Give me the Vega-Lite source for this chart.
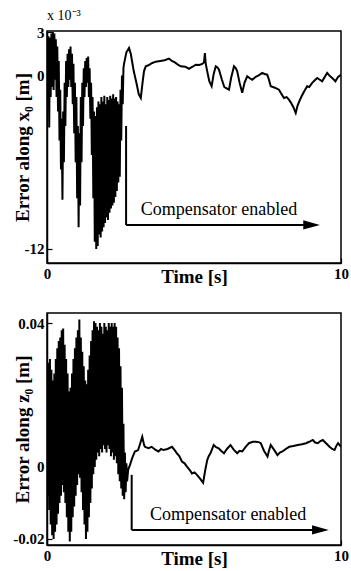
{
  "$schema": "https://vega.github.io/schema/vega-lite/v6.json",
  "padding": {"left": 12, "top": 8, "right": 0, "bottom": 0},
  "background": "white",
  "spacing": 25,
  "datasets": {
    "x0": [
      {"t":0.000,"e":2.0},{"t":0.025,"e":-1.2},{"t":0.050,"e":2.7},{"t":0.075,"e":-3.6},{"t":0.100,"e":2.6},{"t":0.125,"e":-1.5},{"t":0.150,"e":2.9},{"t":0.175,"e":-0.8},{"t":0.200,"e":3.0},{"t":0.225,"e":-1.0},
      {"t":0.250,"e":2.9},{"t":0.275,"e":-0.3},{"t":0.300,"e":2.5},{"t":0.325,"e":-1.5},{"t":0.350,"e":2.0},{"t":0.375,"e":-2.5},{"t":0.400,"e":1.0},{"t":0.425,"e":-4.5},{"t":0.450,"e":-1.0},{"t":0.475,"e":-6.5},
      {"t":0.500,"e":-3.0},{"t":0.525,"e":-8.6},{"t":0.550,"e":-2.5},{"t":0.575,"e":-6.0},{"t":0.600,"e":-0.5},{"t":0.625,"e":-3.5},{"t":0.650,"e":1.0},{"t":0.675,"e":-1.5},{"t":0.700,"e":1.5},{"t":0.725,"e":-0.8},
      {"t":0.750,"e":1.8},{"t":0.775,"e":-0.3},{"t":0.800,"e":2.0},{"t":0.825,"e":-0.8},{"t":0.850,"e":1.5},{"t":0.875,"e":-2.0},{"t":0.900,"e":0.8},{"t":0.925,"e":-4.0},{"t":0.950,"e":-0.5},{"t":0.975,"e":-6.0},
      {"t":1.000,"e":-1.5},{"t":1.025,"e":-8.5},{"t":1.050,"e":-3.5},{"t":1.075,"e":-10.5},{"t":1.100,"e":-4.0},{"t":1.125,"e":-9.0},{"t":1.150,"e":-1.5},{"t":1.175,"e":-6.0},{"t":1.200,"e":-0.5},{"t":1.225,"e":-3.5},
      {"t":1.250,"e":0.5},{"t":1.275,"e":-1.5},{"t":1.300,"e":1.0},{"t":1.325,"e":-0.8},{"t":1.350,"e":1.2},{"t":1.375,"e":-0.5},{"t":1.400,"e":1.3},{"t":1.425,"e":-1.5},{"t":1.450,"e":0.5},{"t":1.475,"e":-3.0},
      {"t":1.500,"e":-0.5},{"t":1.525,"e":-5.5},{"t":1.550,"e":-1.5},{"t":1.575,"e":-8.5},{"t":1.600,"e":-2.5},{"t":1.625,"e":-11.5},{"t":1.650,"e":-2.8},{"t":1.675,"e":-12.0},{"t":1.700,"e":-2.2},{"t":1.725,"e":-11.8},
      {"t":1.750,"e":-1.8},{"t":1.775,"e":-11.0},{"t":1.800,"e":-2.0},{"t":1.825,"e":-11.2},{"t":1.850,"e":-1.5},{"t":1.875,"e":-10.8},{"t":1.900,"e":-1.8},{"t":1.925,"e":-10.5},{"t":1.950,"e":-1.4},{"t":1.975,"e":-10.2},
      {"t":2.000,"e":-2.0},{"t":2.025,"e":-9.8},{"t":2.050,"e":-1.5},{"t":2.075,"e":-10.0},{"t":2.100,"e":-1.7},{"t":2.125,"e":-9.5},{"t":2.150,"e":-1.4},{"t":2.175,"e":-9.2},{"t":2.200,"e":-1.6},{"t":2.225,"e":-9.0},
      {"t":2.250,"e":-1.3},{"t":2.275,"e":-8.8},{"t":2.300,"e":-1.6},{"t":2.325,"e":-8.4},{"t":2.350,"e":-1.5},{"t":2.375,"e":-8.0},{"t":2.400,"e":-1.8},{"t":2.425,"e":-7.4},{"t":2.450,"e":-2.0},{"t":2.475,"e":-7.0},
      {"t":2.500,"e":-1.0},{"t":2.525,"e":-4.5},{"t":2.550,"e":0.0},{"t":2.575,"e":-2.0},{"t":2.600,"e":0.5},
      {"t":2.62,"e":0.8},{"t":2.70,"e":1.6},{"t":2.79,"e":1.9},{"t":2.85,"e":1.5},{"t":2.95,"e":0.3},{"t":3.05,"e":-0.6},{"t":3.12,"e":-1.3},{"t":3.19,"e":-1.56},{"t":3.25,"e":-0.5},{"t":3.30,"e":0.3},
      {"t":3.36,"e":0.63},{"t":3.45,"e":0.7},{"t":3.58,"e":0.86},{"t":3.70,"e":0.95},{"t":3.85,"e":1.0},{"t":4.00,"e":1.05},{"t":4.15,"e":1.16},{"t":4.25,"e":1.0},{"t":4.35,"e":0.9},{"t":4.45,"e":0.75},
      {"t":4.55,"e":0.63},{"t":4.70,"e":0.6},{"t":4.83,"e":0.46},{"t":4.95,"e":0.6},{"t":5.06,"e":0.74},{"t":5.18,"e":0.72},{"t":5.28,"e":0.79},{"t":5.34,"e":0.9},{"t":5.37,"e":1.55},{"t":5.40,"e":0.8},
      {"t":5.45,"e":0.28},{"t":5.52,"e":-0.4},{"t":5.60,"e":-0.75},{"t":5.67,"e":0.1},{"t":5.74,"e":0.63},{"t":5.80,"e":0.55},{"t":5.85,"e":0.4},{"t":5.95,"e":-0.3},{"t":6.03,"e":-0.8},{"t":6.08,"e":-0.87},
      {"t":6.19,"e":-0.99},{"t":6.26,"e":-0.2},{"t":6.36,"e":0.63},{"t":6.42,"e":0.5},{"t":6.47,"e":0.28},{"t":6.55,"e":-0.5},{"t":6.64,"e":-1.2},{"t":6.72,"e":-0.5},{"t":6.81,"e":-0.06},{"t":6.90,"e":-0.2},
      {"t":6.98,"e":-0.3},{"t":7.10,"e":-0.1},{"t":7.20,"e":0.0},{"t":7.32,"e":0.17},{"t":7.40,"e":0.1},{"t":7.49,"e":0.05},{"t":7.55,"e":-0.3},{"t":7.61,"e":-0.75},{"t":7.75,"e":-0.85},{"t":7.89,"e":-0.99},
      {"t":7.95,"e":-1.2},{"t":8.06,"e":-1.56},{"t":8.15,"e":-1.5},{"t":8.23,"e":-1.68},{"t":8.30,"e":-1.9},{"t":8.38,"e":-2.2},{"t":8.46,"e":-2.6},{"t":8.52,"e":-2.1},{"t":8.58,"e":-1.8},{"t":8.66,"e":-1.44},
      {"t":8.75,"e":-1.1},{"t":8.85,"e":-0.75},{"t":8.92,"e":-0.8},{"t":9.02,"e":-0.52},{"t":9.10,"e":-0.35},{"t":9.19,"e":-0.18},{"t":9.28,"e":-0.3},{"t":9.36,"e":-0.41},{"t":9.45,"e":-0.1},{"t":9.53,"e":0.17},
      {"t":9.60,"e":0.0},{"t":9.70,"e":-0.18},{"t":9.76,"e":-0.3},{"t":9.81,"e":-0.41},{"t":9.90,"e":-0.1},{"t":10.0,"e":0.05}
    ],
    "z0": [
      {"t":0.000,"e":0.028},{"t":0.025,"e":-0.008},{"t":0.050,"e":0.029},{"t":0.075,"e":-0.012},{"t":0.100,"e":0.030},{"t":0.125,"e":-0.016},{"t":0.150,"e":0.027},{"t":0.175,"e":-0.019},{"t":0.200,"e":0.024},{"t":0.225,"e":-0.020},
      {"t":0.250,"e":0.026},{"t":0.275,"e":-0.018},{"t":0.300,"e":0.030},{"t":0.325,"e":-0.016},{"t":0.350,"e":0.033},{"t":0.375,"e":-0.013},{"t":0.400,"e":0.035},{"t":0.425,"e":-0.010},{"t":0.450,"e":0.036},{"t":0.475,"e":-0.008},
      {"t":0.500,"e":0.038},{"t":0.525,"e":-0.005},{"t":0.550,"e":0.0385},{"t":0.575,"e":-0.007},{"t":0.600,"e":0.034},{"t":0.625,"e":-0.010},{"t":0.650,"e":0.030},{"t":0.675,"e":-0.014},{"t":0.700,"e":0.026},{"t":0.725,"e":-0.018},
      {"t":0.750,"e":0.021},{"t":0.775,"e":-0.0207},{"t":0.800,"e":0.022},{"t":0.825,"e":-0.018},{"t":0.850,"e":0.026},{"t":0.875,"e":-0.014},{"t":0.900,"e":0.030},{"t":0.925,"e":-0.011},{"t":0.950,"e":0.033},{"t":0.975,"e":-0.008},
      {"t":1.000,"e":0.036},{"t":1.025,"e":-0.005},{"t":1.050,"e":0.038},{"t":1.075,"e":-0.002},{"t":1.100,"e":0.041},{"t":1.125,"e":-0.003},{"t":1.150,"e":0.036},{"t":1.175,"e":-0.007},{"t":1.200,"e":0.032},{"t":1.225,"e":-0.012},
      {"t":1.250,"e":0.028},{"t":1.275,"e":-0.016},{"t":1.300,"e":0.024},{"t":1.325,"e":-0.020},{"t":1.350,"e":0.023},{"t":1.375,"e":-0.018},{"t":1.400,"e":0.027},{"t":1.425,"e":-0.014},{"t":1.450,"e":0.031},{"t":1.475,"e":-0.010},
      {"t":1.500,"e":0.035},{"t":1.525,"e":-0.006},{"t":1.550,"e":0.038},{"t":1.575,"e":-0.002},{"t":1.600,"e":0.0405},{"t":1.625,"e":0.000},{"t":1.650,"e":0.040},{"t":1.675,"e":0.002},{"t":1.700,"e":0.039},{"t":1.725,"e":0.004},
      {"t":1.750,"e":0.038},{"t":1.775,"e":0.003},{"t":1.800,"e":0.040},{"t":1.825,"e":0.005},{"t":1.850,"e":0.039},{"t":1.875,"e":0.004},{"t":1.900,"e":0.037},{"t":1.925,"e":0.006},{"t":1.950,"e":0.040},{"t":1.975,"e":0.005},
      {"t":2.000,"e":0.039},{"t":2.025,"e":0.004},{"t":2.050,"e":0.038},{"t":2.075,"e":0.006},{"t":2.100,"e":0.040},{"t":2.125,"e":0.005},{"t":2.150,"e":0.039},{"t":2.175,"e":0.003},{"t":2.200,"e":0.040},{"t":2.225,"e":0.004},
      {"t":2.250,"e":0.039},{"t":2.275,"e":0.002},{"t":2.300,"e":0.040},{"t":2.325,"e":0.003},{"t":2.350,"e":0.039},{"t":2.375,"e":0.001},{"t":2.400,"e":0.036},{"t":2.425,"e":-0.002},{"t":2.450,"e":0.033},{"t":2.475,"e":-0.004},
      {"t":2.500,"e":0.028},{"t":2.525,"e":-0.006},{"t":2.550,"e":0.022},{"t":2.575,"e":-0.008},{"t":2.600,"e":0.012},{"t":2.625,"e":-0.009},{"t":2.650,"e":0.004},{"t":2.675,"e":-0.007},{"t":2.700,"e":0.001},{"t":2.725,"e":-0.004},
      {"t":2.76,"e":-0.0008},{"t":2.82,"e":0.0005},{"t":2.90,"e":0.0025},{"t":2.99,"e":0.0043},{"t":3.10,"e":0.0047},{"t":3.17,"e":0.0065},{"t":3.24,"e":0.0084},{"t":3.30,"e":0.0062},{"t":3.33,"e":0.0056},{"t":3.45,"e":0.0052},
      {"t":3.56,"e":0.0056},{"t":3.68,"e":0.0048},{"t":3.79,"e":0.0043},{"t":3.88,"e":0.0050},{"t":3.96,"e":0.0047},{"t":4.10,"e":0.0050},{"t":4.25,"e":0.0056},{"t":4.33,"e":0.0048},{"t":4.42,"e":0.0038},{"t":4.50,"e":0.0030},
      {"t":4.59,"e":0.0015},{"t":4.68,"e":0.0010},{"t":4.76,"e":0.0001},{"t":4.85,"e":-0.0008},{"t":4.93,"e":-0.0018},{"t":5.02,"e":-0.0015},{"t":5.10,"e":-0.0022},{"t":5.20,"e":-0.0032},{"t":5.31,"e":-0.0044},{"t":5.38,"e":-0.0010},
      {"t":5.45,"e":0.0019},{"t":5.50,"e":0.0030},{"t":5.56,"e":0.0038},{"t":5.67,"e":0.0061},{"t":5.75,"e":0.0055},{"t":5.84,"e":0.0052},{"t":5.92,"e":0.0045},{"t":6.02,"e":0.0038},{"t":6.12,"e":0.0050},{"t":6.24,"e":0.0061},
      {"t":6.35,"e":0.0048},{"t":6.47,"e":0.0038},{"t":6.55,"e":0.0045},{"t":6.64,"e":0.0043},{"t":6.75,"e":0.0055},{"t":6.87,"e":0.0066},{"t":7.00,"e":0.0070},{"t":7.10,"e":0.0070},{"t":7.20,"e":0.0069},{"t":7.27,"e":0.0066},
      {"t":7.38,"e":0.0045},{"t":7.50,"e":0.0029},{"t":7.55,"e":0.0045},{"t":7.61,"e":0.0061},{"t":7.72,"e":0.0048},{"t":7.84,"e":0.0033},{"t":7.92,"e":0.0040},{"t":8.01,"e":0.0043},{"t":8.12,"e":0.0050},{"t":8.24,"e":0.0056},
      {"t":8.38,"e":0.0058},{"t":8.53,"e":0.0061},{"t":8.67,"e":0.0063},{"t":8.81,"e":0.0066},{"t":8.92,"e":0.0070},{"t":9.04,"e":0.0075},{"t":9.12,"e":0.0068},{"t":9.21,"e":0.0066},{"t":9.30,"e":0.0072},{"t":9.38,"e":0.0075},
      {"t":9.50,"e":0.0065},{"t":9.61,"e":0.0056},{"t":9.70,"e":0.0050},{"t":9.78,"e":0.0047},{"t":9.85,"e":0.0060},{"t":9.90,"e":0.0066},{"t":10.0,"e":0.0056}
    ],
    "arrowX": [{"t":2.69,"t2":9.0,"ytop":-3.5,"ybot":-10.34,"label":"Compensator enabled","tl":3.19,"yl":-9.63}],
    "arrowZ": [{"t":2.88,"t2":9.3,"ytop":-0.0022,"ybot":-0.0175,"label":"Compensator enabled","tl":3.5,"yl":-0.0147}]
  },
  "vconcat": [
    {
      "title": {"text": "x 10⁻³", "anchor": "start", "frame": "group", "font": "Liberation Serif", "fontSize": 14, "fontWeight": "normal", "offset": 2, "color": "black"},
      "width": 294,
      "height": 232,
      "encoding": {
        "x": {"type": "quantitative", "scale": {"domain": [0, 10], "nice": false}, "axis": {"values": [0, 10], "title": "Time [s]"}},
        "y": {"type": "quantitative", "scale": {"domain": [-12.97, 3.07], "nice": false, "zero": false}, "axis": {"values": [-12, 0, 3], "title": "Error along x₀ [m]", "labelExpr": "replace(format(datum.value, '~g'), '−', '-')"}}
      },
      "layer": [
        {"data": {"name": "x0"}, "mark": {"type": "line", "color": "black", "strokeWidth": 2, "clip": true},
         "encoding": {"x": {"field": "t"}, "y": {"field": "e"}}},
        {"data": {"name": "arrowX"}, "mark": {"type": "rule", "color": "black", "strokeWidth": 2},
         "encoding": {"x": {"field": "t"}, "y": {"field": "ytop"}, "y2": {"field": "ybot"}}},
        {"data": {"name": "arrowX"}, "mark": {"type": "rule", "color": "black", "strokeWidth": 2},
         "encoding": {"x": {"field": "t"}, "x2": {"field": "t2"}, "y": {"field": "ybot"}}},
        {"data": {"name": "arrowX"}, "mark": {"type": "point", "shape": "M-1,-0.55L1,0L-1,0.55Z", "filled": true, "color": "black", "opacity": 1, "size": 280},
         "encoding": {"x": {"field": "t2"}, "y": {"field": "ybot"}}},
        {"data": {"name": "arrowX"}, "mark": {"type": "text", "align": "left", "baseline": "alphabetic", "font": "Liberation Serif", "fontSize": 18, "color": "black"},
         "encoding": {"x": {"field": "tl"}, "y": {"field": "yl"}, "text": {"field": "label"}}}
      ]
    },
    {
      "width": 294,
      "height": 232,
      "encoding": {
        "x": {"type": "quantitative", "scale": {"domain": [0, 10], "nice": false}, "axis": {"values": [0, 10], "title": "Time [s]"}},
        "y": {"type": "quantitative", "scale": {"domain": [-0.0217, 0.0428], "nice": false, "zero": false}, "axis": {"values": [-0.02, 0, 0.04], "title": "Error along z₀ [m]", "labelExpr": "replace(format(datum.value, '~g'), '−', '-')"}}
      },
      "layer": [
        {"data": {"name": "z0"}, "mark": {"type": "line", "color": "black", "strokeWidth": 2, "clip": true},
         "encoding": {"x": {"field": "t"}, "y": {"field": "e"}}},
        {"data": {"name": "arrowZ"}, "mark": {"type": "rule", "color": "black", "strokeWidth": 2},
         "encoding": {"x": {"field": "t"}, "y": {"field": "ytop"}, "y2": {"field": "ybot"}}},
        {"data": {"name": "arrowZ"}, "mark": {"type": "rule", "color": "black", "strokeWidth": 2},
         "encoding": {"x": {"field": "t"}, "x2": {"field": "t2"}, "y": {"field": "ybot"}}},
        {"data": {"name": "arrowZ"}, "mark": {"type": "point", "shape": "M-1,-0.55L1,0L-1,0.55Z", "filled": true, "color": "black", "opacity": 1, "size": 280},
         "encoding": {"x": {"field": "t2"}, "y": {"field": "ybot"}}},
        {"data": {"name": "arrowZ"}, "mark": {"type": "text", "align": "left", "baseline": "alphabetic", "font": "Liberation Serif", "fontSize": 18, "color": "black"},
         "encoding": {"x": {"field": "tl"}, "y": {"field": "yl"}, "text": {"field": "label"}}}
      ]
    }
  ],
  "config": {
    "font": "Liberation Serif",
    "view": {"stroke": "black", "strokeWidth": 1.5},
    "axis": {"grid": false, "domainColor": "black", "domainWidth": 1.5, "tickColor": "black", "tickSize": -5, "tickWidth": 1.2, "labelPadding": 8,
             "labelFont": "Liberation Serif", "labelFontSize": 15, "labelFontWeight": "bold", "labelColor": "black",
             "titleFont": "Liberation Serif", "titleFontSize": 19, "titleFontWeight": "bold", "titleColor": "black",
             "labelFlush": false, "labelOverlap": false},
    "axisX": {"minExtent": 2, "maxExtent": 2, "titlePadding": 2},
    "axisY": {"minExtent": 13, "maxExtent": 13, "titlePadding": 2}
  }
}
